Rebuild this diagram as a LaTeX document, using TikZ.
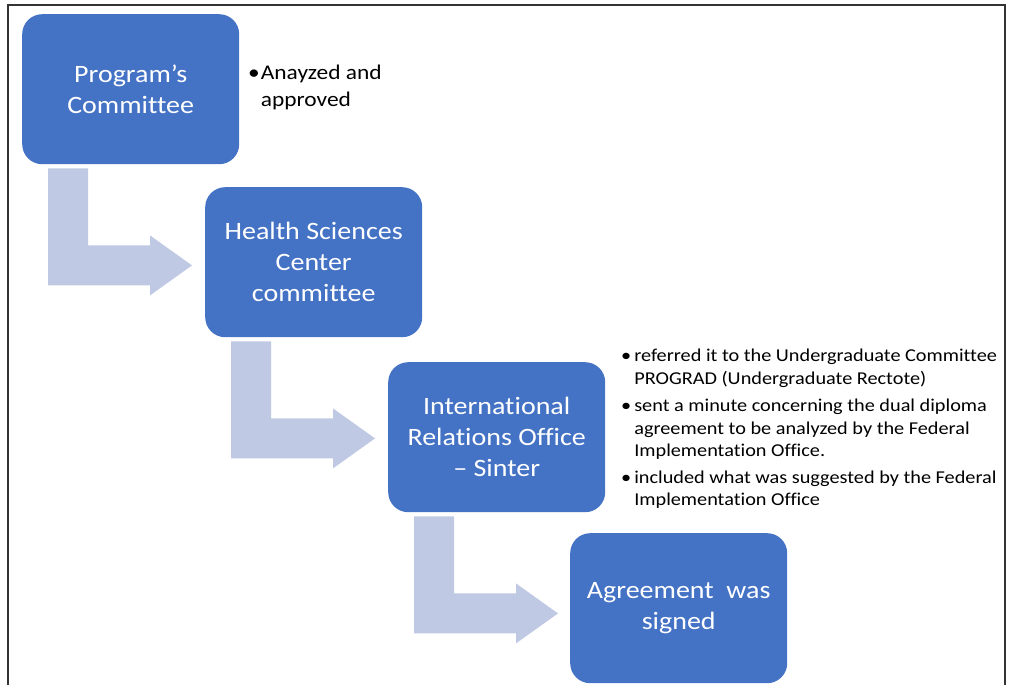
\documentclass[tikz,border=0pt]{standalone}
\usepackage{fontspec}
\setmainfont{Carlito}[FakeStretch=1.12,Ligatures=NoCommon]
\usetikzlibrary{calc}
\definecolor{boxblue}{RGB}{68,114,196}
\definecolor{arrowblue}{RGB}{191,201,227}
\begin{document}
\begin{tikzpicture}[x=1pt,y=-1pt,
  stage/.style={draw=none,fill=boxblue,rounded corners=20pt,minimum width=217pt,minimum height=150pt,
    text=white,align=center,inner sep=0pt,font=\fontsize{25}{31}\selectfont},
  bentarrow/.style={fill=arrowblue,draw=none},
  bullets/.style={inner sep=0pt,anchor=north west,text=black}]
\useasboundingbox (0,0) rectangle (1009,685);
\draw[line width=2pt,black!80] (8,690) -- (8,5) -- (1005,5) -- (1005,690);

\node[stage,anchor=north west] (b1) at (22,14) {Program’s\\Committee};
\node[stage,anchor=north west] (b2) at (205,187) {Health Sciences\\Center\\committee};
\node[stage,anchor=north west] (b3) at (388,362) {International\\Relations Office\\– Sinter};
\node[stage,anchor=north west] (b4) at (570,533) {Agreement\ \ was\\signed};

\foreach \b in {b1,b2,b3}{
  \fill[bentarrow]
    ($(\b.south west)+(26,4)$) -- ($(\b.south west)+(66,4)$) -- ($(\b.south west)+(66,81)$)
    -- ($(\b.south west)+(128,81)$) -- ($(\b.south west)+(128,71)$) -- ($(\b.south west)+(170,101)$)
    -- ($(\b.south west)+(128,131)$) -- ($(\b.south west)+(128,121)$) -- ($(\b.south west)+(26,121)$) -- cycle;
}

\node[bullets,font=\fontsize{20.9}{27}\selectfont] (t1) at (248,60)
  {\begin{tabular}{@{}l@{\hspace{1pt}}l@{}}\textbullet & Anayzed and\\ & approved\end{tabular}};

\node[bullets,font=\fontsize{18.1}{22.5}\selectfont] (t3) at (621,346)
  {\begin{tabular}{@{}l@{\hspace{3pt}}l@{}}
   \textbullet & referred it to the Undergraduate Committee\\
   & PROGRAD (Undergraduate Rectote)\\[5pt]
   \textbullet & sent a minute concerning the dual diploma\\
   & agreement to be analyzed by the Federal\\
   & Implementation Office.\\[4pt]
   \textbullet & included what was suggested by the Federal\\
   & Implementation Office
  \end{tabular}};
\end{tikzpicture}
\end{document}
